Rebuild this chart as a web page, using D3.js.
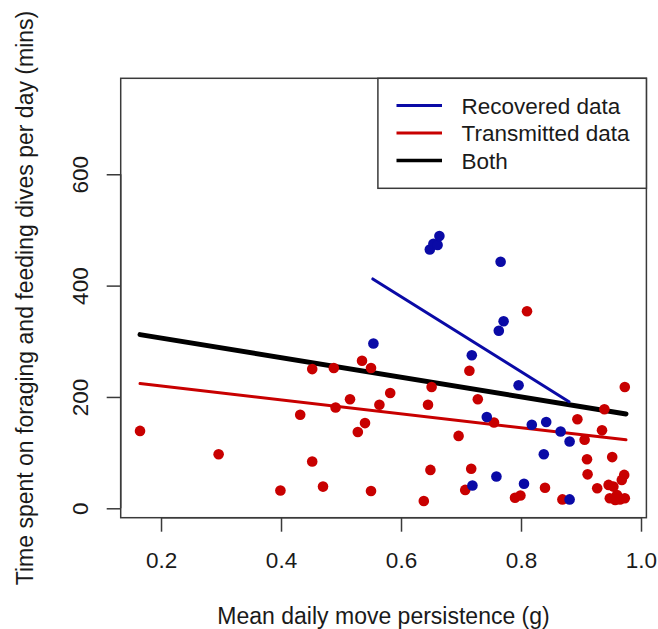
<!DOCTYPE html>
<html>
<head>
<meta charset="utf-8">
<script src="https://cdn.jsdelivr.net/npm/d3@7"></script>
<style>
  html, body { margin: 0; padding: 0; background: #fff; }
  svg { display: block; }
  text { font-family: "Liberation Sans", Arial, sans-serif; fill: #1a1a1a; }
</style>
</head>
<body>
<svg id="chart" width="658" height="629"></svg>
<script>
// Transmitted data (red): move persistence vs. daily foraging minutes
const transmittedX = [0.165, 0.296, 0.399, 0.432, 0.452, 0.452, 0.470, 0.488, 0.491, 0.515,
  0.528, 0.540, 0.535, 0.550, 0.550, 0.564, 0.582, 0.645, 0.651, 0.649, 0.638, 0.810,
  0.714, 0.728, 0.755, 0.696, 0.717, 0.707, 0.790, 0.799, 0.840, 0.869, 0.894, 0.906,
  0.935, 0.939, 0.973, 0.910, 0.911, 0.952, 0.927, 0.946, 0.954, 0.968, 0.972, 0.948,
  0.957, 0.965, 0.973, 0.960];
const transmittedY = [139, 97, 32, 168, 250, 84, 39, 252, 181, 196,
  137, 153, 265, 252, 31, 186, 207, 186, 218, 69, 13, 354,
  247, 196, 154, 130, 71, 33, 19, 23, 37, 16, 160, 123,
  140, 178, 218, 88, 61, 92, 36, 42, 39, 51, 60, 18,
  15, 16, 18, 24];

// Recovered data (blue)
const recoveredX = [0.554, 0.648, 0.654, 0.661, 0.664, 0.766, 0.771, 0.763, 0.718, 0.796,
  0.743, 0.818, 0.842, 0.866, 0.881, 0.838, 0.719, 0.759, 0.805, 0.881];
const recoveredY = [296, 465, 475, 473, 489, 443, 336, 319, 275, 221,
  164, 150, 155, 138, 120, 97, 41, 57, 44, 16];

// Fitted regression lines: [x start, x end], [y start, y end]
const fitRecoveredX = [0.553, 0.880];
const fitRecoveredY = [412, 191.5];
const fitTransmittedX = [0.165, 0.975];
const fitTransmittedY = [224, 123];
const fitBothX = [0.165, 0.975];
const fitBothY = [312, 169.5];

const xTicks = [0.2, 0.4, 0.6, 0.8, 1.0];
const yTicks = [0, 200, 400, 600];
const legendLabels = ["Recovered data", "Transmitted data", "Both"];

const BLUE = "#0a0aa6";
const RED = "#c80000";
const BLACK = "#000000";

const plot = { left: 120.7, right: 646.4, top: 78.3, bottom: 517.7 };

const x = d3.scaleLinear().domain([0.1328, 1.009]).range([plot.left, plot.right]);
const y = d3.scaleLinear().domain([-16.9, 772.4]).range([plot.bottom, plot.top]);

const svg = d3.select("#chart");

// Regression lines sit beneath the points
const fits = [
  { xs: fitTransmittedX, ys: fitTransmittedY, color: RED, w: 3 },
  { xs: fitBothX, ys: fitBothY, color: BLACK, w: 5 },
  { xs: fitRecoveredX, ys: fitRecoveredY, color: BLUE, w: 3 }
];
svg.append("g").selectAll("line").data(fits).join("line")
  .attr("x1", d => x(d.xs[0])).attr("x2", d => x(d.xs[1]))
  .attr("y1", d => y(d.ys[0])).attr("y2", d => y(d.ys[1]))
  .attr("stroke", d => d.color).attr("stroke-width", d => d.w)
  .attr("stroke-linecap", "round");

// Points: transmitted first, recovered on top
const tPts = transmittedX.map((v, i) => [v, transmittedY[i]]);
const rPts = recoveredX.map((v, i) => [v, recoveredY[i]]);
svg.append("g").selectAll("circle").data(tPts).join("circle")
  .attr("cx", d => x(d[0])).attr("cy", d => y(d[1])).attr("r", 5.3)
  .attr("fill", RED);
svg.append("g").selectAll("circle").data(rPts).join("circle")
  .attr("cx", d => x(d[0])).attr("cy", d => y(d[1])).attr("r", 5.3)
  .attr("fill", BLUE);

// Plot frame
svg.append("rect")
  .attr("x", plot.left).attr("y", plot.top)
  .attr("width", plot.right - plot.left).attr("height", plot.bottom - plot.top)
  .attr("fill", "none").attr("stroke", "#3a3a3a").attr("stroke-width", 1.5);

// X axis
const xAxis = svg.append("g").attr("transform", `translate(0,${plot.bottom})`)
  .call(d3.axisBottom(x).tickValues(xTicks).tickFormat(d3.format(".1f"))
    .tickSizeInner(14).tickSizeOuter(0).tickPadding(0));
xAxis.select(".domain").attr("d", `M${x(xTicks[0])},0H${x(xTicks[xTicks.length - 1])}`)
  .attr("stroke", "#3a3a3a").attr("stroke-width", 1.5);
xAxis.selectAll(".tick line").attr("stroke", "#3a3a3a").attr("stroke-width", 1.5);
xAxis.selectAll(".tick text")
  .attr("y", 50.5).attr("dy", null)
  .style("font-size", "22.5px").style("font-family", "'Liberation Sans', Arial, sans-serif")
  .attr("fill", "#1a1a1a");

// Y axis (labels rotated, reading upward)
const yAxis = svg.append("g").attr("transform", `translate(${plot.left},0)`)
  .call(d3.axisLeft(y).tickValues(yTicks).tickFormat(d3.format("d"))
    .tickSizeInner(14).tickSizeOuter(0).tickPadding(0));
yAxis.select(".domain").attr("d", `M0,${y(yTicks[0])}V${y(yTicks[yTicks.length - 1])}`)
  .attr("stroke", "#3a3a3a").attr("stroke-width", 1.5);
yAxis.selectAll(".tick line").attr("stroke", "#3a3a3a").attr("stroke-width", 1.5);
yAxis.selectAll(".tick text")
  .attr("x", null).attr("dy", null)
  .attr("transform", "translate(-32.5,0) rotate(-90)")
  .attr("text-anchor", "middle")
  .style("font-size", "22.5px").style("font-family", "'Liberation Sans', Arial, sans-serif")
  .attr("fill", "#1a1a1a");

// Axis titles
svg.append("text")
  .attr("x", (plot.left + plot.right) / 2).attr("y", 623.5)
  .attr("text-anchor", "middle").style("font-size", "23px")
  .text("Mean daily move persistence (g)");
svg.append("text")
  .attr("transform", `translate(33,${(plot.top + plot.bottom) / 2}) rotate(-90)`)
  .attr("text-anchor", "middle").style("font-size", "23px")
  .text("Time spent on foraging and feeding dives per day (mins)");

// Legend
const legend = { left: 377.9, top: plot.top, right: plot.right, bottom: 188.3 };
svg.append("rect")
  .attr("x", legend.left).attr("y", legend.top)
  .attr("width", legend.right - legend.left).attr("height", legend.bottom - legend.top)
  .attr("fill", "#fff").attr("stroke", "#3a3a3a").attr("stroke-width", 1.5);
const legendColors = [BLUE, RED, BLACK];
const legendWidths = [3, 3, 3.5];
const rowY = d3.scaleLinear().domain([0, 1]).range([105.5, 133]);
const rows = svg.append("g").selectAll("g").data(legendLabels).join("g")
  .attr("transform", (d, i) => `translate(0,${rowY(i)})`);
rows.append("line")
  .attr("x1", 396.5).attr("x2", 442)
  .attr("stroke", (d, i) => legendColors[i])
  .attr("stroke-width", (d, i) => legendWidths[i]);
rows.append("text")
  .attr("x", 461.5).attr("dy", "0.36em")
  .style("font-size", "22.5px")
  .text(d => d);
</script>
</body>
</html>
